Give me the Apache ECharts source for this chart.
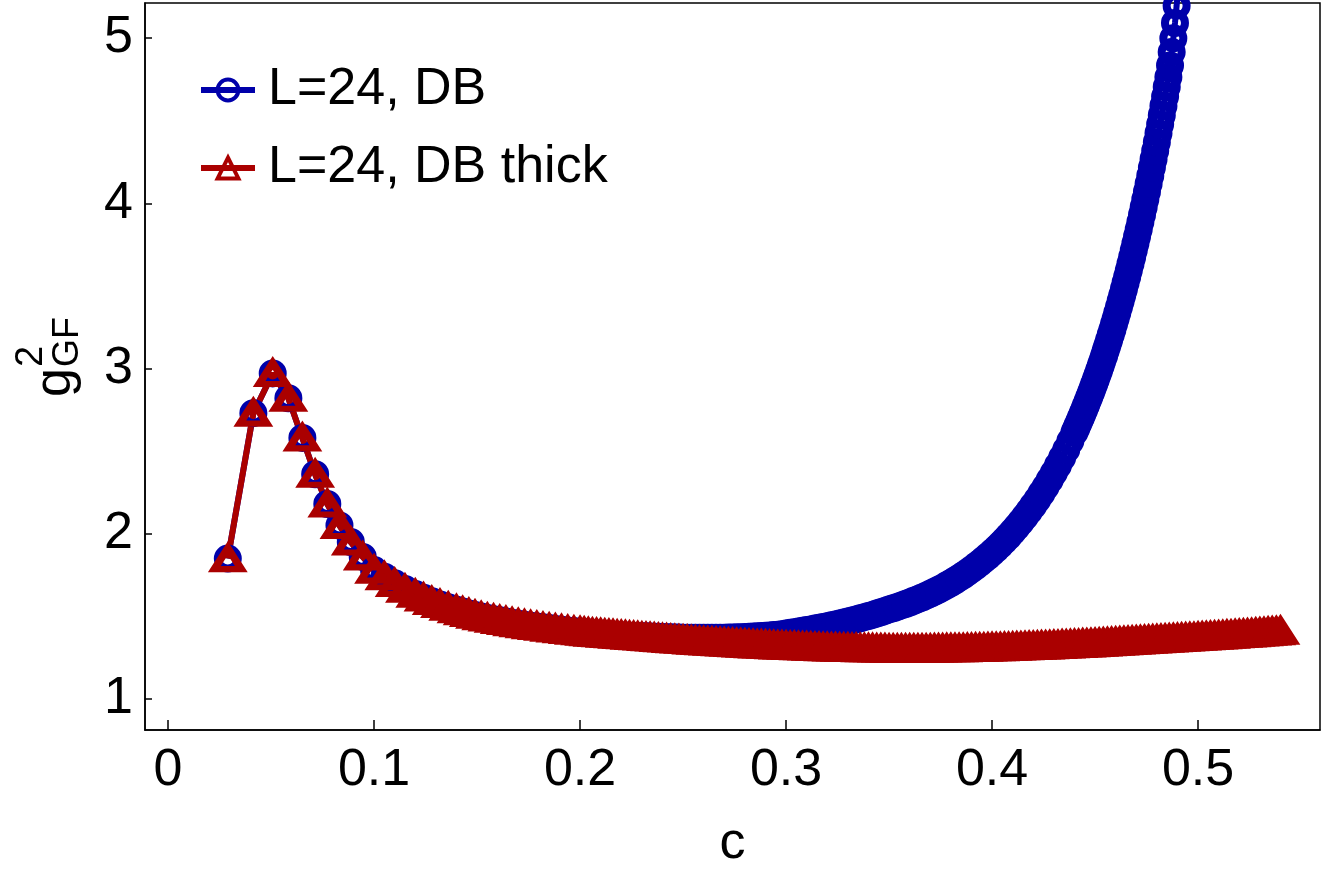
<!DOCTYPE html>
<html>
<head>
<meta charset="utf-8">
<script src="https://cdn.jsdelivr.net/npm/echarts@6/dist/echarts.min.js"></script>
<style>
  html, body { margin: 0; padding: 0; background: #fff; }
  #chart { width: 1329px; height: 886px; }
</style>
</head>
<body>
<div id="chart"></div>
<script>
// both series coincide up to c ~ 0.22
const cShared = [0.029, 0.0414, 0.0508, 0.0584, 0.0652, 0.0714, 0.0773, 0.0832, 0.0887, 0.0945,
  0.100, 0.105, 0.110, 0.115, 0.120, 0.124, 0.128, 0.132, 0.136, 0.140,
  0.143, 0.146, 0.149, 0.152, 0.155, 0.158, 0.161, 0.164, 0.167, 0.170,
  0.173, 0.176, 0.179, 0.182, 0.185, 0.188, 0.191, 0.194, 0.197, 0.200,
  0.202, 0.204, 0.206, 0.208, 0.210, 0.212, 0.214, 0.216, 0.218, 0.220]
const gShared = [1.85, 2.73, 2.97, 2.82, 2.58, 2.36, 2.18, 2.05, 1.95, 1.86,
  1.78, 1.74, 1.70, 1.665, 1.635, 1.612, 1.591, 1.572, 1.556, 1.540,
  1.529, 1.518, 1.508, 1.499, 1.490, 1.483, 1.476, 1.469, 1.462, 1.456,
  1.450, 1.444, 1.439, 1.434, 1.429, 1.424, 1.419, 1.415, 1.411, 1.407,
  1.404, 1.402, 1.399, 1.397, 1.395, 1.393, 1.391, 1.389, 1.387, 1.385]

// c values used by both curves from 0.222 to 0.440
const cMid = [0.222, 0.224, 0.226, 0.228, 0.230, 0.232, 0.234, 0.236, 0.238, 0.240,
  0.242, 0.244, 0.246, 0.248, 0.250, 0.252, 0.254, 0.256, 0.258, 0.260,
  0.262, 0.264, 0.266, 0.268, 0.270, 0.272, 0.274, 0.276, 0.278, 0.280,
  0.282, 0.284, 0.286, 0.288, 0.290, 0.292, 0.294, 0.296, 0.298, 0.300,
  0.302, 0.304, 0.306, 0.308, 0.310, 0.312, 0.314, 0.316, 0.318, 0.320,
  0.322, 0.324, 0.326, 0.328, 0.330, 0.332, 0.334, 0.336, 0.338, 0.340,
  0.342, 0.344, 0.346, 0.348, 0.350, 0.352, 0.354, 0.356, 0.358, 0.360,
  0.362, 0.364, 0.366, 0.368, 0.370, 0.372, 0.374, 0.376, 0.378, 0.380,
  0.382, 0.384, 0.386, 0.388, 0.390, 0.392, 0.394, 0.396, 0.398, 0.400,
  0.402, 0.404, 0.406, 0.408, 0.410, 0.412, 0.414, 0.416, 0.418, 0.420,
  0.422, 0.424, 0.426, 0.428, 0.430, 0.432, 0.434, 0.436, 0.438, 0.440]

// L=24, DB
const gDBMid = [1.384, 1.383, 1.382, 1.381, 1.380, 1.379, 1.378, 1.377, 1.376, 1.375,
  1.374, 1.373, 1.372, 1.372, 1.371, 1.371, 1.370, 1.370, 1.370, 1.370,
  1.370, 1.370, 1.370, 1.371, 1.371, 1.372, 1.372, 1.373, 1.374, 1.375,
  1.376, 1.378, 1.379, 1.381, 1.383, 1.385, 1.387, 1.389, 1.392, 1.396,
  1.401, 1.404, 1.409, 1.413, 1.417, 1.421, 1.426, 1.431, 1.436, 1.441,
  1.446, 1.451, 1.457, 1.463, 1.469, 1.475, 1.481, 1.488, 1.495, 1.502,
  1.509, 1.517, 1.525, 1.533, 1.542, 1.549, 1.557, 1.566, 1.575, 1.584,
  1.594, 1.604, 1.614, 1.625, 1.637, 1.649, 1.661, 1.674, 1.688, 1.702,
  1.717, 1.733, 1.749, 1.766, 1.784, 1.803, 1.822, 1.843, 1.864, 1.886,
  1.909, 1.933, 1.959, 1.985, 2.013, 2.042, 2.072, 2.104, 2.137, 2.171,
  2.207, 2.245, 2.284, 2.326, 2.369, 2.413, 2.460, 2.509, 2.561, 2.614]
const cDBEnd = [0.4408, 0.4416, 0.4424, 0.4432, 0.4440, 0.4448, 0.4456, 0.4464, 0.4472, 0.4480,
  0.4488, 0.4496, 0.4504, 0.4512, 0.4520, 0.4528, 0.4536, 0.4544, 0.4552, 0.4560,
  0.4568, 0.4576, 0.4584, 0.4592, 0.4600, 0.4608, 0.4616, 0.4624, 0.4632, 0.4640,
  0.4648, 0.4656, 0.4664, 0.4672, 0.4680, 0.4688, 0.4696, 0.4704, 0.4712, 0.4720,
  0.4728, 0.4736, 0.4744, 0.4752, 0.4760, 0.4768, 0.4776, 0.4784, 0.4792, 0.4800,
  0.4808, 0.4816, 0.4824, 0.4832, 0.4840, 0.4848, 0.4856, 0.4864, 0.4872, 0.4880,
  0.4888, 0.4896, 0.4904, 0.4912]
const gDBEnd = [2.636, 2.659, 2.682, 2.705, 2.729, 2.753, 2.778, 2.803, 2.828, 2.854,
  2.880, 2.907, 2.934, 2.962, 2.990, 3.019, 3.048, 3.078, 3.109, 3.140,
  3.171, 3.203, 3.235, 3.269, 3.302, 3.337, 3.372, 3.407, 3.443, 3.480,
  3.518, 3.556, 3.594, 3.634, 3.674, 3.715, 3.757, 3.799, 3.842, 3.886,
  3.931, 3.976, 4.023, 4.070, 4.118, 4.166, 4.216, 4.267, 4.318, 4.370,
  4.424, 4.478, 4.533, 4.589, 4.646, 4.704, 4.764, 4.834, 4.915, 4.998,
  5.091, 5.196, 5.312, 5.439]

// L=24, DB thick
const gThickMid = [1.383, 1.381, 1.379, 1.377, 1.375, 1.373, 1.371, 1.369, 1.367, 1.365,
  1.363, 1.361, 1.359, 1.357, 1.356, 1.354, 1.352, 1.350, 1.349, 1.347,
  1.345, 1.344, 1.342, 1.341, 1.339, 1.338, 1.336, 1.335, 1.333, 1.332,
  1.331, 1.329, 1.328, 1.327, 1.326, 1.324, 1.323, 1.322, 1.321, 1.320,
  1.319, 1.318, 1.317, 1.316, 1.315, 1.314, 1.313, 1.312, 1.311, 1.310,
  1.309, 1.309, 1.308, 1.307, 1.307, 1.306, 1.306, 1.305, 1.305, 1.304,
  1.304, 1.303, 1.303, 1.303, 1.302, 1.302, 1.302, 1.302, 1.302, 1.302,
  1.302, 1.302, 1.302, 1.302, 1.302, 1.303, 1.303, 1.303, 1.304, 1.304,
  1.304, 1.305, 1.305, 1.306, 1.306, 1.307, 1.308, 1.308, 1.309, 1.310,
  1.311, 1.311, 1.312, 1.313, 1.314, 1.315, 1.316, 1.317, 1.318, 1.319,
  1.320, 1.321, 1.322, 1.323, 1.324, 1.325, 1.327, 1.328, 1.329, 1.330]
const cThickEnd = [0.442, 0.444, 0.446, 0.448, 0.450, 0.452, 0.454, 0.456, 0.458, 0.460,
  0.462, 0.464, 0.466, 0.468, 0.470, 0.472, 0.474, 0.476, 0.478, 0.480,
  0.482, 0.484, 0.486, 0.488, 0.490, 0.492, 0.494, 0.496, 0.498, 0.500,
  0.502, 0.504, 0.506, 0.508, 0.510, 0.512, 0.514, 0.516, 0.518, 0.520,
  0.522, 0.524, 0.526, 0.528, 0.530, 0.532, 0.534, 0.536, 0.538, 0.540]
const gThickEnd = [1.331, 1.333, 1.334, 1.335, 1.337, 1.338, 1.339, 1.341, 1.342, 1.344,
  1.345, 1.347, 1.348, 1.350, 1.351, 1.353, 1.354, 1.356, 1.357, 1.359,
  1.360, 1.362, 1.363, 1.365, 1.366, 1.368, 1.369, 1.371, 1.372, 1.374,
  1.376, 1.377, 1.379, 1.381, 1.382, 1.384, 1.386, 1.387, 1.389, 1.391,
  1.393, 1.394, 1.396, 1.398, 1.400, 1.402, 1.404, 1.406, 1.408, 1.410]

const xTicks = [0, 0.1, 0.2, 0.3, 0.4, 0.5]
const yTicks = [1, 2, 3, 4, 5]

const BLUE = '#0000aa'
const RED = '#aa0000'
const FONT = '"Liberation Sans", Arial, sans-serif'

const zip = (xs, ys) => xs.map((x, i) => [x, ys[i]])
const dbData = [...zip(cShared, gShared), ...zip(cMid, gDBMid), ...zip(cDBEnd, gDBEnd)]
const thickData = [...zip(cShared, gShared), ...zip(cMid, gThickMid), ...zip(cThickEnd, gThickEnd)]

const chart = echarts.init(document.getElementById('chart'), null, { renderer: 'canvas' })

const axisCommon = {
  axisLine: { show: true, onZero: false, lineStyle: { color: '#000', width: 1.5 } },
  axisTick: { show: true, inside: true, lineStyle: { color: '#000', width: 1.5 } },
  splitLine: { show: false },
  axisLabel: { color: '#000', fontSize: 52, fontFamily: FONT }
}

chart.setOption({
  animation: false,
  backgroundColor: '#fff',
  grid: {
    left: 145, right: 9, top: 3, bottom: 156,
    show: true, borderColor: '#000', borderWidth: 1.5
  },
  xAxis: {
    type: 'value',
    min: -0.0112,
    max: 0.5592,
    ...axisCommon,
    axisTick: { ...axisCommon.axisTick, length: 10, customValues: xTicks },
    axisLabel: { ...axisCommon.axisLabel, margin: 15, customValues: xTicks, formatter: v => String(v) },
    name: 'c',
    nameLocation: 'middle',
    nameGap: 88,
    nameTextStyle: { color: '#000', fontSize: 52, fontFamily: FONT }
  },
  yAxis: {
    type: 'value',
    min: 0.8124,
    max: 5.212,
    ...axisCommon,
    axisTick: { ...axisCommon.axisTick, length: 7, customValues: yTicks },
    axisLabel: { ...axisCommon.axisLabel, margin: 12, customValues: yTicks }
  },
  legend: {
    orient: 'vertical',
    left: 193,
    top: 59,
    itemWidth: 54,
    itemHeight: 26,
    itemGap: 26,
    lineStyle: { width: 6 },
    itemStyle: { borderWidth: 4 },
    textStyle: { color: '#000', fontSize: 52, fontFamily: FONT, padding: [0, 0, 0, 8] },
    data: ['L=24, DB', 'L=24, DB thick']
  },
  graphic: [{
    type: 'group',
    x: 56,
    y: 397,
    rotation: Math.PI / 2,
    children: [
      { type: 'text', x: 0, y: 0, style: { text: 'g', fontSize: 52, fontFamily: FONT, fill: '#000', verticalAlign: 'middle' } },
      { type: 'text', x: 30, y: -24, style: { text: '2', fontSize: 38, fontFamily: FONT, fill: '#000', verticalAlign: 'middle' } },
      { type: 'text', x: 30, y: 12, style: { text: 'GF', fontSize: 36, fontFamily: FONT, fill: '#000', verticalAlign: 'middle' } }
    ]
  }],
  series: [
    {
      name: 'L=24, DB',
      type: 'line',
      data: dbData,
      symbol: 'circle',
      symbolSize: 20,
      showSymbol: true,
      showAllSymbol: true,
      itemStyle: { color: 'rgba(255,255,255,0)', borderColor: BLUE, borderWidth: 8 },
      lineStyle: { color: BLUE, width: 6 },
      emphasis: { disabled: true }
    },
    {
      name: 'L=24, DB thick',
      type: 'line',
      data: thickData,
      symbol: 'triangle',
      symbolSize: [27, 21],
      showSymbol: true,
      showAllSymbol: true,
      itemStyle: { color: 'rgba(255,255,255,0)', borderColor: RED, borderWidth: 7 },
      lineStyle: { color: RED, width: 6 },
      emphasis: { disabled: true }
    }
  ]
})

window.addEventListener('resize', () => chart.resize())
</script>
</body>
</html>
